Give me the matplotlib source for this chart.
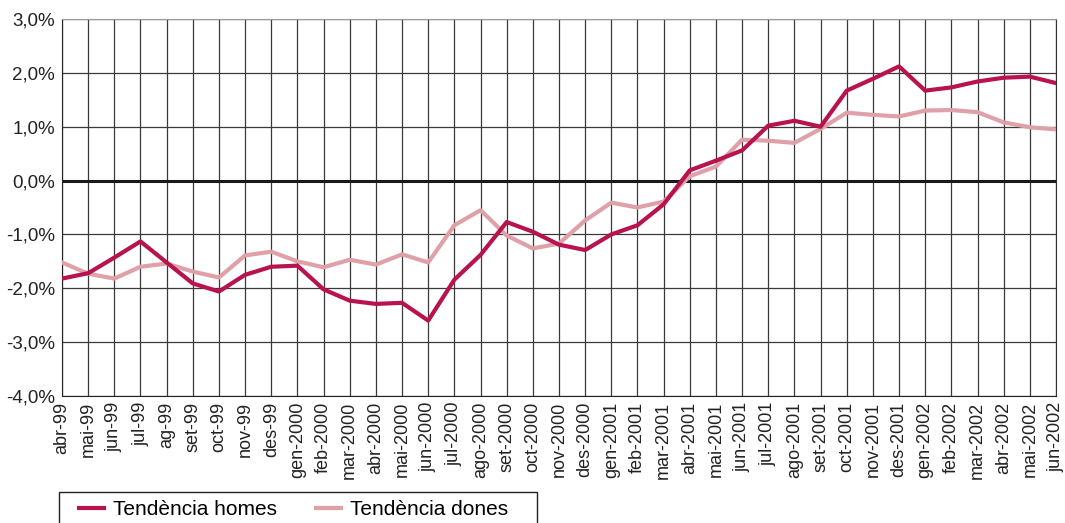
import numpy as np
import matplotlib.pyplot as plt
from matplotlib.patches import Rectangle
from matplotlib.ticker import FuncFormatter

plt.rcParams['font.family'] = ['Liberation Sans', 'DejaVu Sans']

months = ['abr-99', 'mai-99', 'jun-99', 'jul-99', 'ag-99', 'set-99', 'oct-99',
          'nov-99', 'des-99', 'gen-2000', 'feb-2000', 'mar-2000', 'abr-2000',
          'mai-2000', 'jun-2000', 'jul-2000', 'ago-2000', 'set-2000', 'oct-2000',
          'nov-2000', 'des-2000', 'gen-2001', 'feb-2001', 'mar-2001', 'abr-2001',
          'mai-2001', 'jun-2001', 'jul-2001', 'ago-2001', 'set-2001', 'oct-2001',
          'nov-2001', 'des-2001', 'gen-2002', 'feb-2002', 'mar-2002', 'abr-2002',
          'mai-2002', 'jun-2002']

homes = [-1.82, -1.72, -1.43, -1.13, -1.52, -1.91, -2.06, -1.75, -1.60, -1.58,
         -2.02, -2.23, -2.29, -2.27, -2.60, -1.84, -1.38, -0.77, -0.95, -1.19,
         -1.29, -1.00, -0.83, -0.44, 0.19, 0.37, 0.56, 1.02, 1.11, 1.00,
         1.67, 1.89, 2.12, 1.67, 1.73, 1.84, 1.91, 1.93, 1.81]

dones = [-1.52, -1.73, -1.82, -1.60, -1.54, -1.69, -1.80, -1.39, -1.32, -1.50,
         -1.61, -1.47, -1.56, -1.37, -1.52, -0.83, -0.55, -1.02, -1.26, -1.17,
         -0.74, -0.41, -0.50, -0.39, 0.08, 0.26, 0.76, 0.74, 0.70, 0.96,
         1.26, 1.22, 1.19, 1.30, 1.31, 1.27, 1.08, 0.99, 0.95]

c_homes = '#B8134F'
c_dones = '#E0A0A8'

fig = plt.figure(figsize=(10.65, 5.23), dpi=100)
ax = fig.add_axes([62/1065, 1-396/523, (1056-62)/1065, (396-19)/523])

x = np.arange(len(months))
ax.plot(x, homes, color=c_homes, lw=3, label='Tendència homes', zorder=4)
ax.plot(x, dones, color=c_dones, lw=3, label='Tendència dones', zorder=3)

ax.axhline(0, color='#1a1a1a', lw=2.2, zorder=2)
ax.set_xlim(0, len(months)-1)
ax.set_ylim(-4, 3)
ax.set_yticks(np.arange(-4, 3.5, 1))
ax.yaxis.set_major_formatter(FuncFormatter(lambda v, p: f'{v:.1f}%'.replace('.', ',')))
ax.set_xticks(x)
ax.set_xticklabels(months, rotation=90)
ax.grid(True, color='#3a3a3a', lw=0.9, zorder=1)
ax.set_axisbelow(True)
ax.tick_params(length=0, labelsize=13.5, colors='#222222', pad=5)
ax.tick_params(axis='x', labelsize=13, pad=4)
for s in ['left', 'bottom']:
    ax.spines[s].set_color('#222222')
ax.spines['top'].set_color('#999999')
ax.spines['right'].set_color('#333333')

# legend without frame, box drawn separately (wider side padding than top)
leg = fig.legend(loc='upper left', bbox_to_anchor=(79/1065, 1-500/523), ncol=2,
                 fontsize=15, frameon=False, handlelength=1.2, handletextpad=0.45,
                 columnspacing=1.85, borderpad=0, borderaxespad=0)
fig.patches.append(Rectangle((59/1065, -0.02), (537-59)/1065, (523-492)/523 + 0.02,
                             transform=fig.transFigure, fill=False,
                             edgecolor='#222222', lw=1))

fig.savefig('out.png', dpi=100)
